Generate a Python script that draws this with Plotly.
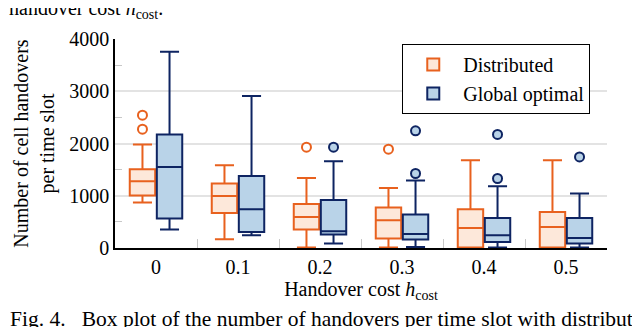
import plotly.graph_objects as go

# handover cost values (categories)
categories = ['0', '0.1', '0.2', '0.3', '0.4', '0.5']

# Distributed: box statistics
dist_low = [870, 167, 10, 10, 0, 0]
dist_q1 = [1004, 671, 352, 180, 10, 10]
dist_med = [1278, 997, 594, 531, 383, 403]
dist_q3 = [1508, 1234, 843, 774, 742, 690]
dist_high = [1982, 1585, 1342, 1150, 1681, 1681]
dist_out = [[2275, 2543], [], [1930], [1892], [], []]

# Global optimal
glob_low = [352, 243, 84, 19, 10, 10]
glob_q1 = [563, 307, 257, 161, 115, 84]
glob_med = [1552, 742, 320, 268, 243, 192]
glob_q3 = [2173, 1380, 920, 640, 575, 575]
glob_high = [3756, 2907, 1662, 1292, 1182, 1042]
glob_out = [[], [], [1930], [2243, 1426], [2173, 1330], [1744]]

FONT = 'Times New Roman'
ORANGE = '#E8611E'
ORANGE_FILL = '#FDE8DA'
NAVY = '#0E2462'
BLUE_FILL = '#B9D3E8'

offset = 0.165
idx = list(range(len(categories)))

fig = go.Figure()


def add_series(name, shift, low, q1, med, q3, high, outliers, line, fill, out_fill):
    xs = [i + shift for i in idx]
    fig.add_trace(go.Box(x=xs, lowerfence=low, q1=q1, median=med, q3=q3,
                         upperfence=high, width=0.31, whiskerwidth=0.75,
                         name=name, line=dict(color=line, width=2),
                         fillcolor=fill, boxpoints=False, hoverinfo='skip'))
    ox, oy = [], []
    for i, vals in enumerate(outliers):
        for v in vals:
            ox.append(i + shift)
            oy.append(v)
    fig.add_trace(go.Scatter(x=ox, y=oy, mode='markers', showlegend=False,
                             marker=dict(size=9, color=out_fill,
                                         line=dict(color=line, width=2))))


add_series('Distributed', -offset, dist_low, dist_q1, dist_med, dist_q3,
           dist_high, dist_out, ORANGE, ORANGE_FILL, 'white')
add_series('Global optimal', offset, glob_low, glob_q1, glob_med, glob_q3,
           glob_high, glob_out, NAVY, BLUE_FILL, BLUE_FILL)

fig.update_xaxes(range=[-0.5, 5.5], tickmode='array', tickvals=idx,
                 ticktext=categories, ticks='', showgrid=False,
                 showline=True, linecolor='black', linewidth=1.5,
                 zeroline=False, tickfont=dict(family=FONT, size=20),
                 minor=dict(tickvals=[i + 0.5 for i in idx[:-1]],
                            ticks='inside', ticklen=9, tickcolor='#c8c8c8',
                            tickwidth=1.2),
                 title=dict(text='Handover cost <i>h</i><sub>cost</sub>',
                            font=dict(family=FONT, size=20), standoff=2))
fig.update_yaxes(range=[0, 4000], tickvals=[0, 1000, 2000, 3000, 4000],
                 ticks='', showgrid=True, gridcolor='#e3e3e3', gridwidth=1.5,
                 showline=True, linecolor='black', linewidth=1.5,
                 zeroline=False, tickfont=dict(family=FONT, size=20),
                 minor=dict(tickvals=[500, 1500, 2500, 3500], ticks='inside',
                            ticklen=7, tickcolor='#c8c8c8', tickwidth=1.2),
                 title=dict(text='Number of cell handovers<br>per time slot',
                            font=dict(family=FONT, size=20), standoff=9))

# caption fragments visible above and below the chart
fig.add_annotation(text='handover cost <i>h</i><sub>cost</sub>.', xref='paper',
                   yref='paper', x=-0.219, y=1.14, xanchor='left',
                   yanchor='middle', showarrow=False,
                   font=dict(family=FONT, size=20))
fig.add_annotation(text='Fig. 4.&nbsp;&nbsp; Box plot of the number of handovers per time slot with distributed',
                   xref='paper', yref='paper', x=-0.217, y=-0.34,
                   xanchor='left', yanchor='middle', showarrow=False,
                   font=dict(family=FONT, size=21.5))

fig.update_layout(width=632, height=319,
                  plot_bgcolor='white', paper_bgcolor='white',
                  font=dict(family=FONT, color='black', size=20),
                  margin=dict(l=102, r=33, t=31, b=79),
                  showlegend=True,
                  legend=dict(x=0.966, y=0.976, xanchor='right', yanchor='top',
                              bordercolor='black', borderwidth=1,
                              bgcolor='white', font=dict(family=FONT, size=20),
                              tracegroupgap=0, itemwidth=50))

fig.write_html('out.html')
